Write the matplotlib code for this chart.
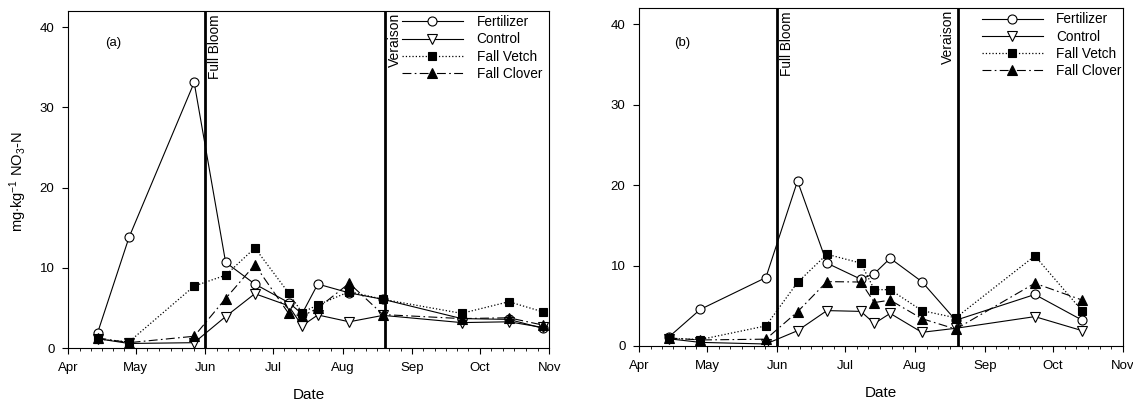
import numpy as np
import matplotlib
matplotlib.use("Agg")
import matplotlib.pyplot as plt
import matplotlib.dates as mdates
import datetime as dt

plt.rcParams['font.family'] = ['Liberation Sans', 'DejaVu Sans']
plt.rcParams['mathtext.fontset'] = 'custom'
plt.rcParams['mathtext.rm'] = 'Liberation Sans'
plt.rcParams['mathtext.it'] = 'Liberation Sans'

YEAR = 2003
# ---------------- data ----------------
dates_a = ["04-14", "04-28", "05-27", "06-10", "06-23", "07-08", "07-14",
           "07-21", "08-04", "08-19", "09-23", "10-14", "10-29"]
fert_a = [1.9, 13.8, 33.1, 10.7, 8.0, 5.7, 4.3, 8.0, 6.9, 6.1, 3.7, 3.6, 2.5]
ctrl_a = [1.2, 0.6, 0.7, 3.95, 6.8, 5.3, 2.8, 4.15, 3.3, 4.1, 3.2, 3.3, 2.6]
vetch_a = [1.15, 0.8, 7.75, 9.1, 12.5, 6.9, 4.45, 5.4, 7.05, 6.1, 4.35, 5.8, 4.55]
clover_a = [1.3, 0.7, 1.5, 6.2, 10.4, 4.35, 4.0, 5.0, 8.1, 4.2, 3.7, 3.8, 2.9]

dates_b = ["04-14", "04-28", "05-27", "06-10", "06-23", "07-08", "07-14",
           "07-21", "08-04", "08-19", "09-23", "10-14"]
fert_b = [1.1, 4.55, 8.5, 20.5, 10.3, 8.3, 9.0, 10.9, 8.0, 3.2, 6.4, 3.2]
ctrl_b = [0.9, 0.45, 0.25, 1.9, 4.4, 4.3, 2.8, 4.05, 1.7, 2.2, 3.65, 1.9]
vetch_b = [0.95, 0.8, 2.5, 7.9, 11.4, 10.3, 7.0, 7.0, 4.4, 3.5, 11.2, 4.35]
clover_b = [1.0, 0.75, 0.85, 4.25, 8.0, 7.95, 5.4, 5.7, 3.4, 2.1, 7.8, 5.7]

series_names = ["Fertilizer", "Control", "Fall Vetch", "Fall Clover"]
month_labels = ["Apr", "May", "Jun", "Jul", "Aug", "Sep", "Oct", "Nov"]
y_ticks = [0, 10, 20, 30, 40]
full_bloom = "06-01"
veraison = "08-20"
panel_labels = ["(a)", "(b)"]


def d(s):
    m, dd = s.split("-")
    return dt.date(YEAR, int(m), int(dd))


styles = [
    dict(color='black', ls='-', marker='o', mfc='white', mec='black', ms=6.5, lw=0.8, mew=0.8),
    dict(color='black', ls='-', marker='v', mfc='white', mec='black', ms=7, lw=0.8, mew=0.8),
    dict(color='black', ls=':', marker='s', mfc='black', mec='black', ms=6, lw=0.9, mew=0.8),
    dict(color='black', ls=(0, (8, 3, 1.5, 3)), marker='^', mfc='black', mec='black', ms=7, lw=0.8, mew=0.8),
]

W, H = 1133, 405
fig = plt.figure(figsize=(W / 100, H / 100), dpi=100)


def px_axes(l, t, r, b):
    return fig.add_axes([l / W, 1 - b / H, (r - l) / W, (b - t) / H])


ax_a = px_axes(68.3, 11, 549.3, 348.3)
ax_b = px_axes(639.3, 8, 1123, 346)

panels = [
    (ax_a, dates_a, [fert_a, ctrl_a, vetch_a, clover_a]),
    (ax_b, dates_b, [fert_b, ctrl_b, vetch_b, clover_b]),
]

month_dates = [dt.date(YEAR, m, 1) for m in range(4, 12)]
month_nums = mdates.date2num(month_dates)
minor = []
for i in range(len(month_nums) - 1):
    a0, a1 = month_nums[i], month_nums[i + 1]
    for k in range(1, 6):
        minor.append(a0 + (a1 - a0) * k / 6)

label_pos = [(0.093, 0.905), (0.088, 0.896)]
leg_pos = [(401.7, 15.0), (981.5, 12.3)]

for idx, (ax, dts, vals) in enumerate(panels):
    x = [d(s) for s in dts]
    handles = []
    for name, v, st in zip(series_names, vals, styles):
        ln, = ax.plot(x, v, label=name, **st)
        handles.append(ln)
    ax.axvline(d(full_bloom), color='black', lw=2.0, zorder=5)
    ax.axvline(d(veraison), color='black', lw=2.0, zorder=5)
    ax.set_xlim(month_nums[0], month_nums[-1])
    ax.set_ylim(0, 42)
    ax.set_xticks(month_nums)
    ax.set_xticklabels(month_labels)
    ax.set_xticks(minor, minor=True)
    ax.set_yticks(y_ticks)
    ax.tick_params(axis='both', which='major', direction='out', length=4.5, width=0.8,
                   labelsize=9.5, pad=5.5)
    ax.tick_params(axis='x', which='minor', direction='out', length=2.5, width=0.6)
    for sp in ax.spines.values():
        sp.set_linewidth(0.8)
    ax.set_xlabel("Date", fontsize=11, labelpad=10)
    ax.text(label_pos[idx][0], label_pos[idx][1], panel_labels[idx], transform=ax.transAxes,
            fontsize=9.5, ha='center', va='center')

    off = 1 / 1.389
    ax.annotate("Full Bloom", xy=(d(full_bloom), 1), xycoords=('data', 'axes fraction'),
                xytext=(2.5 * off, -3.5 * off), textcoords='offset points',
                rotation=90, ha='left', va='top', fontsize=9.8)
    if idx == 0:
        ax.annotate("Veraison", xy=(d(veraison), 1), xycoords=('data', 'axes fraction'),
                    xytext=(3 * off, -2 * off), textcoords='offset points',
                    rotation=90, ha='left', va='top', fontsize=10)
    else:
        ax.annotate("Veraison", xy=(d(veraison), 1), xycoords=('data', 'axes fraction'),
                    xytext=(-3 * off, -2 * off), textcoords='offset points',
                    rotation=90, ha='right', va='top', fontsize=10)

    lx, ly = leg_pos[idx]
    ax.legend(handles, series_names, loc='upper left',
              bbox_to_anchor=(lx / W, 1 - ly / H), bbox_transform=fig.transFigure,
              frameon=False, borderpad=0, borderaxespad=0, fontsize=9.8,
              handlelength=4.5, handletextpad=1.0, labelspacing=0.24)

fig.text(18 / W, 1 - 182 / H, r"mg$\cdot$kg$^{-1}$ NO$_3$-N", rotation=90,
         ha='center', va='center', fontsize=10.5)

fig.savefig("out.png", dpi=100)
